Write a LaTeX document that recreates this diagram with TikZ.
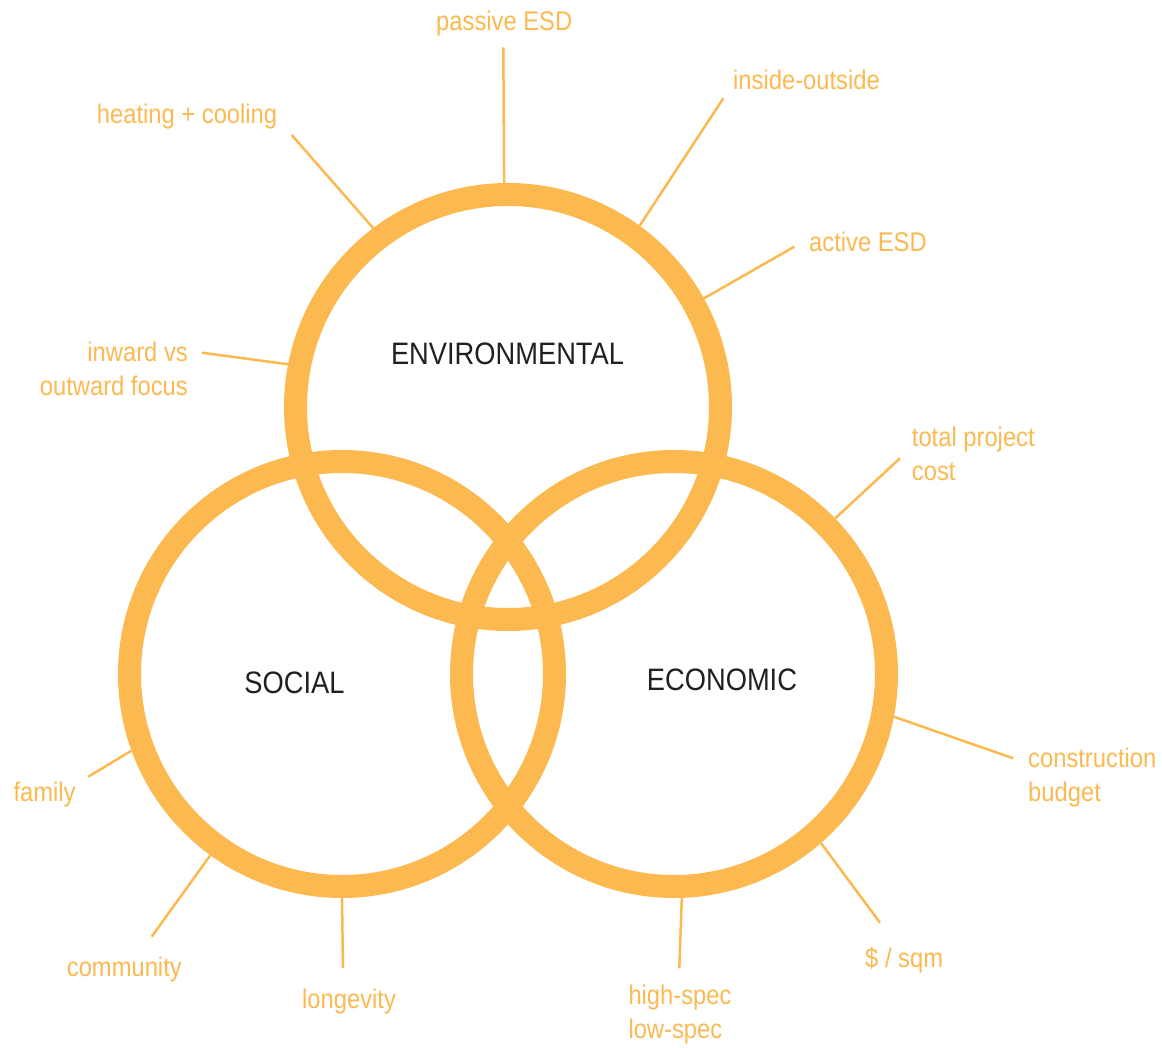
\documentclass[tikz,border=0pt]{standalone}
\usepackage{fontspec}
\setmainfont{Liberation Sans}[FakeStretch=0.88]
\usepackage{xcolor}
\definecolor{ochre}{RGB}{251,185,80}
\definecolor{ink}{RGB}{35,31,32}

\begin{document}
\begin{tikzpicture}[x=1pt, y=-1pt,
    ring/.style={circle, draw=ochre, line width=23pt, minimum size=425pt, inner sep=0pt},
    pillar/.style={font=\fontsize{31}{36}\selectfont, text=ink, inner sep=0pt},
    tag/.style={font=\fontsize{27}{34}\selectfont, text=ochre, inner sep=0pt, align=left},
    leader/.style={draw=ochre, line width=2.5pt}]
    \useasboundingbox (0,0) rectangle (1162,1048);

    % Draw the three circles
    \node[ring] (env) at (508,407) {};
    \node[ring] (soc) at (342,674) {};
    \node[ring] (eco) at (674,674) {};

    % Name the circles
    \node[pillar, anchor=base] (envtitle) at (507.5,365) {ENVIRONMENTAL};
    \node[pillar, anchor=base] (soctitle) at (294.5,693) {SOCIAL};
    \node[pillar, anchor=base] (ecotitle) at (722,690) {ECONOMIC};

    % Labels round the environmental circle
    \node[tag, anchor=base west] (passive) at (436,30.7) {passive ESD};
    \node[tag, anchor=base west] (inside) at (733,89.3) {inside-outside};
    \node[tag, anchor=base west] (heating) at (96.7,123.3) {heating + cooling};
    \node[tag, anchor=base west] (active) at (809,251.7) {active ESD};
    \node[tag, align=right, anchor=base east] (inward) at (188,395.7) {inward vs\\outward focus};

    % Labels round the economic circle (base = last line)
    \node[tag, anchor=base west] (total) at (911.7,480.7) {total project\\cost};
    \node[tag, anchor=base west] (budget) at (1028,801.3) {construction\\budget};
    \node[tag, anchor=base west] (sqm) at (865,967.3) {\$ / sqm};
    \node[tag, anchor=base west] (spec) at (628.3,1038) {high-spec\\low-spec};

    % Labels round the social circle
    \node[tag, anchor=base west] (longevity) at (302,1008) {longevity};
    \node[tag, anchor=base west] (community) at (66.7,976) {community};
    \node[tag, anchor=base west] (family) at (13.3,801.7) {family};

    % Free ends of the leader lines
    \coordinate (passive-end) at (503.3,47.3);
    \coordinate (inside-end) at (723.3,98.3);
    \coordinate (heating-end) at (291.7,135);
    \coordinate (active-end) at (794.3,246.7);
    \coordinate (inward-end) at (201.7,352.7);
    \coordinate (total-end) at (900,458.3);
    \coordinate (budget-end) at (1013.3,758.3);
    \coordinate (sqm-end) at (880,922.7);
    \coordinate (spec-end) at (679.3,968.3);
    \coordinate (longevity-end) at (343,968);
    \coordinate (community-end) at (151.7,936.7);
    \coordinate (family-end) at (88.3,776.7);

    % Draw the leader lines from the circles
    \draw[leader] (env.91.2) -- (passive-end);
    \draw[leader] (env.54.4) -- (inside-end);
    \draw[leader] (env.127.5) -- (heating-end);
    \draw[leader] (env.29.6) -- (active-end);
    \draw[leader] (env.169.2) -- (inward-end);
    \draw[leader] (eco.44.3) -- (total-end);
    \draw[leader] (eco.-11.4) -- (budget-end);
    \draw[leader] (eco.-49.9) -- (sqm-end);
    \draw[leader] (eco.-88.6) -- (spec-end);
    \draw[leader] (soc.-90) -- (longevity-end);
    \draw[leader] (soc.234) -- (community-end);
    \draw[leader] (soc.200.5) -- (family-end);

\end{tikzpicture}
\end{document}
